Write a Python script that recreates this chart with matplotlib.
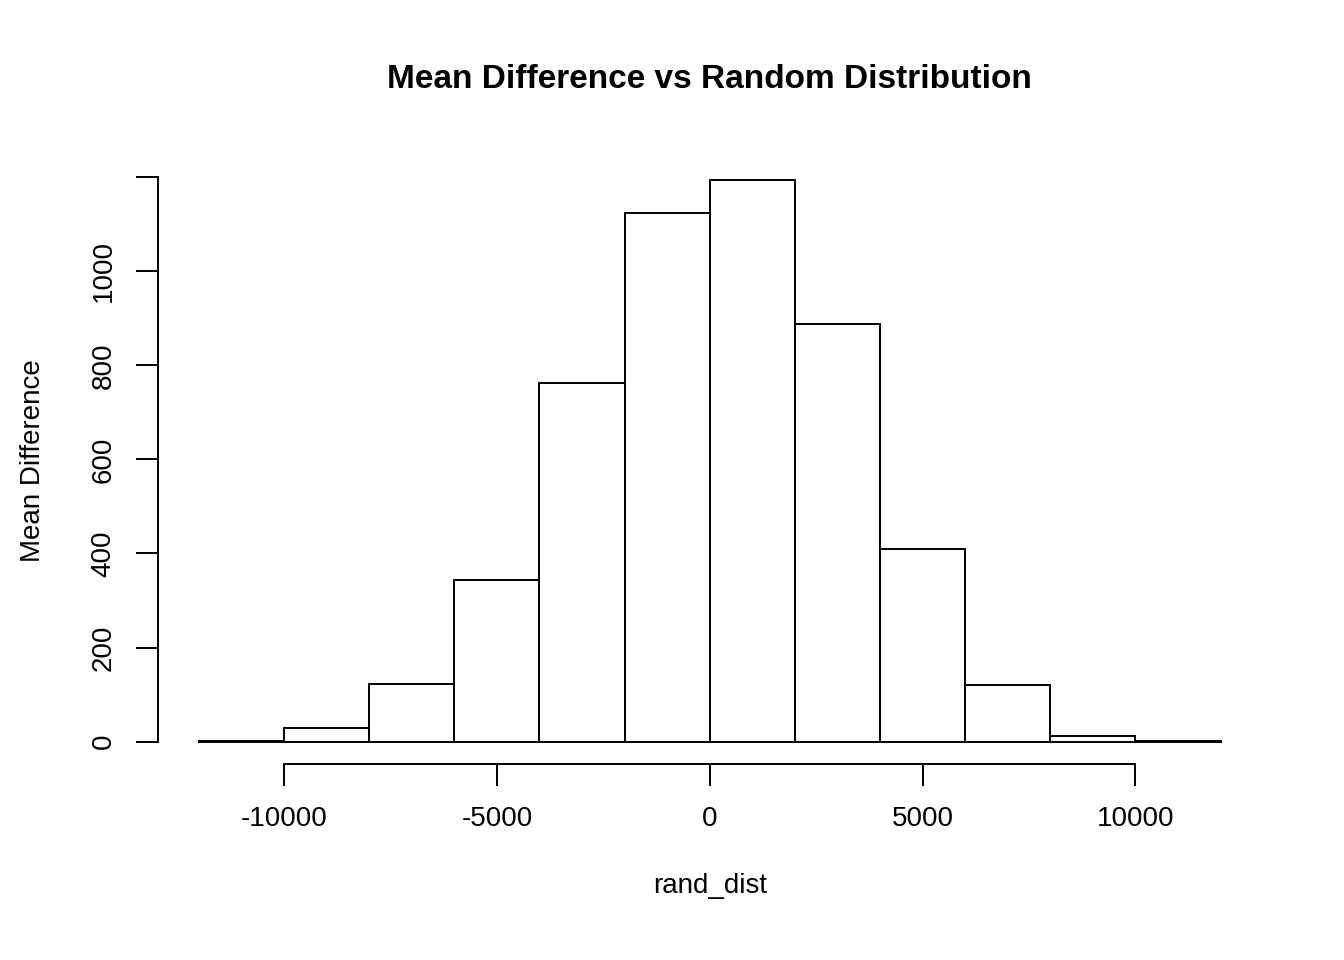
import matplotlib.pyplot as plt

# histogram bins (edges) and counts
bin_edges = [-12000, -10000, -8000, -6000, -4000, -2000, 0, 2000, 4000, 6000, 8000, 10000, 12000]
counts = [2, 28, 123, 343, 762, 1123, 1194, 887, 409, 121, 11, 1]
x_ticks = [-10000, -5000, 0, 5000, 10000]
y_ticks = [0, 200, 400, 600, 800, 1000, 1200]
y_labels = ['0', '200', '400', '600', '800', '1000', '']

plt.rcParams['font.family'] = ['Liberation Sans', 'DejaVu Sans']

fig = plt.figure(figsize=(13.44, 9.6), dpi=100)
ax = fig.add_axes([0.1176, 0.204, 0.821, 0.632])

lefts = bin_edges[:-1]
widths = [b - a for a, b in zip(bin_edges[:-1], bin_edges[1:])]
ax.bar(lefts, counts, width=widths, align='edge', color='white',
       edgecolor='black', linewidth=1.4)

ax.set_xlim(-12960, 12960)
ax.set_ylim(-47.8, 1241.8)

for s in ['top', 'right']:
    ax.spines[s].set_visible(False)
ax.spines['left'].set_bounds(0, 1200)
ax.spines['bottom'].set_bounds(-10000, 10000)
ax.spines['left'].set_linewidth(1.4)
ax.spines['bottom'].set_linewidth(1.4)

ax.set_xticks(x_ticks)
ax.set_xticklabels([str(t) for t in x_ticks])
ax.set_yticks(y_ticks)
ax.set_yticklabels(y_labels, rotation=90, va='center')
ax.tick_params(length=16, width=1.4, labelsize=20, pad=14)

ax.set_xlabel('rand_dist', fontsize=20, labelpad=30)
ax.set_ylabel('Mean Difference', fontsize=20, labelpad=32)
fig.text(0.528, 0.917, 'Mean Difference vs Random Distribution',
         ha='center', va='center', fontsize=24, fontweight='bold')

fig.savefig('out.png', dpi=100)
